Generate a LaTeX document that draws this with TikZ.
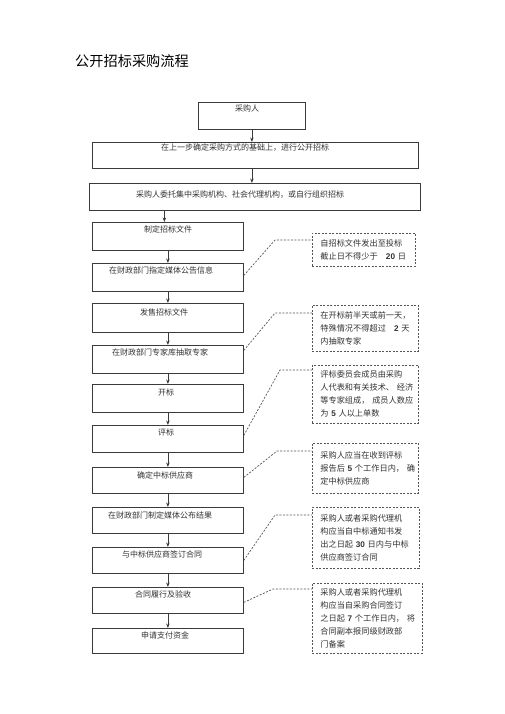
\documentclass[tikz,border=0pt]{standalone}
\usepackage{fontspec}
\setmainfont{Liberation Serif}
\newfontfamily\cjk{Noto Sans CJK SC}
\newfontfamily\numf{Liberation Sans}
\usetikzlibrary{arrows.meta}
\definecolor{boxc}{HTML}{3A3A3A}
\definecolor{txtc}{HTML}{333333}
\definecolor{notec}{HTML}{555555}
\newcommand\nb[1]{{\numf\bfseries #1}}
\begin{document}
\begin{tikzpicture}[x=1pt,y=-1pt,
 bx/.style={draw=boxc, line width=0.8pt, anchor=north west, inner sep=0pt},
 bt/.style={font=\cjk\fontsize{8}{10}\selectfont, text=txtc, inner sep=0pt, anchor=center},
 nt/.style={draw=notec, dash pattern=on 2pt off 1.5pt, line width=0.7pt, anchor=north west, align=left,
   font=\cjk\fontsize{8.2}{13}\selectfont, text=txtc, inner xsep=8pt, inner ysep=0pt},
 ar/.style={-{Stealth[length=4.5pt,width=3.5pt]}, line width=0.8pt, draw=boxc},
 cn/.style={draw=notec, dash pattern=on 2pt off 1.5pt, line width=0.7pt}]
\useasboundingbox (0,0) rectangle (505,714);
\fill[white] (0,0) rectangle (505,714);

\node[font=\cjk\fontsize{14.2}{16}\selectfont, anchor=west, inner sep=0pt] (title) at (75,61) {公开招标采购流程};

% boxes
\node[bx, minimum width=107pt, minimum height=27pt] (b1) at (198,102) {};
\node[bx, minimum width=326pt, minimum height=26pt] (b2) at (92,142) {};
\node[bx, minimum width=331pt, minimum height=27pt] (b3) at (89,183) {};
\node[bx, minimum width=151pt, minimum height=28pt] (b4) at (92,222) {};
\node[bx, minimum width=151pt, minimum height=28pt] (b5) at (92,263) {};
\node[bx, minimum width=151pt, minimum height=29pt] (b6) at (92,303) {};
\node[bx, minimum width=151pt, minimum height=28pt] (b7) at (92,345) {};
\node[bx, minimum width=151pt, minimum height=28pt] (b8) at (92,384) {};
\node[bx, minimum width=151pt, minimum height=27pt] (b9) at (92,425) {};
\node[bx, minimum width=151pt, minimum height=26pt] (b10) at (92,467) {};
\node[bx, minimum width=151pt, minimum height=26pt] (b11) at (92,507) {};
\node[bx, minimum width=151pt, minimum height=26pt] (b12) at (92,547) {};
\node[bx, minimum width=151pt, minimum height=26pt] (b13) at (92,587) {};
\node[bx, minimum width=151pt, minimum height=25pt] (b14) at (92,628) {};

% box texts
\node[bt] (t1) at (247,108) {采购人};
\node[bt] (t2) at (245,148) {在上一步确定采购方式的基础上，进行公开招标};
\node[bt] (t3) at (240,195) {采购人委托集中采购机构、社会代理机构，或自行组织招标};
\node[bt] (t4) at (168,229) {制定招标文件};
\node[bt] (t5) at (161,270) {在财政部门指定媒体公告信息};
\node[bt] (t6) at (164,312) {发售招标文件};
\node[bt] (t7) at (160,352) {在财政部门专家库抽取专家};
\node[bt] (t8) at (166,392) {开标};
\node[bt] (t9) at (166,432) {评标};
\node[bt] (t10) at (165,475) {确定中标供应商};
\node[bt] (t11) at (160,515) {在财政部门制定媒体公布结果};
\node[bt] (t12) at (162,554) {与中标供应商签订合同};
\node[bt] (t13) at (163,594) {合同履行及验收};
\node[bt] (t14) at (165,635) {申请支付资金};

% arrows
\draw[ar] (b1.south) -- (b1.south |- b2.north);
\draw[ar] (b1.south |- b2.south) -- (b1.south |- b3.north);
\draw[ar] ([xshift=-3.5pt]b3.south -| b4.north) -- ([xshift=-3.5pt]b4.north);
\draw[ar] (b4.south) -- (b5.north);
\draw[ar] (b5.south) -- (b6.north);
\draw[ar] (b6.south) -- (b7.north);
\draw[ar] (b7.south) -- (b8.north);
\draw[ar] (b8.south) -- (b9.north);
\draw[ar] (b9.south) -- (b10.north);
\draw[ar] (b10.south) -- (b11.north);
\draw[ar] (b11.south) -- (b12.north);
\draw[ar] (b12.south) -- (b13.north);
\draw[ar] (b13.south) -- (b14.north);

% notes
\node[nt, minimum width=103pt, minimum height=33pt, text width=87pt] (n1) at (312,233)
 {自招标文件发出至投标\\截止日不得少于\quad\nb{20}~日};
\node[nt, minimum width=106pt, minimum height=46pt, text width=90pt] (n2) at (312,305)
 {在开标前半天或前一天，\\特殊情况不得超过\quad\nb{2}~天\\内抽取专家};
\node[nt, minimum width=106pt, minimum height=58pt, text width=90pt] (n3) at (312,365)
 {评标委员会成员由采购\\人代表和有关技术、~经济\\等专家组成，~成员人数应\\为~\nb{5}~人以上单数};
\node[nt, minimum width=106pt, minimum height=50pt, text width=90pt] (n4) at (312,443)
 {采购人应当在收到评标\\报告后~\nb{5}~个工作日内，~确\\定中标供应商};
\node[nt, minimum width=107pt, minimum height=61pt, text width=91pt] (n5) at (312,507)
 {采购人或者采购代理机\\构应当自中标通知书发\\出之日起~\nb{30}~日内与中标\\供应商签订合同};
\node[nt, minimum width=110pt, minimum height=70pt, text width=94pt] (n6) at (312,583)
 {采购人或者采购代理机\\构应当自采购合同签订\\之日起~\nb{7}~个工作日内，~将\\合同副本报同级财政部\\门备案};

% connectors
\coordinate (k1) at (275,240);
\coordinate (k2) at (275,313);
\coordinate (k3) at (280,370);
\coordinate (k4) at (277,451);
\coordinate (k5) at (275,515);
\coordinate (k6) at (273,589);
\draw[cn] ([yshift=2pt]b5.east) -- (k1) -- (k1 -| n1.west);
\draw[cn] ([yshift=9pt]b7.east) -- (k2) -- (k2 -| n2.west);
\draw[cn] ([yshift=3.5pt]b9.east) -- (k3) -- (k3 -| n3.west);
\draw[cn] ([yshift=3pt]b10.east) -- (k4) -- (k4 -| n4.west);
\draw[cn] (b12.east) -- (k5) -- (k5 -| n5.west);
\draw[cn] ([yshift=-2pt]b13.east) -- (k6) -- (k6 -| n6.west);
\end{tikzpicture}
\end{document}
